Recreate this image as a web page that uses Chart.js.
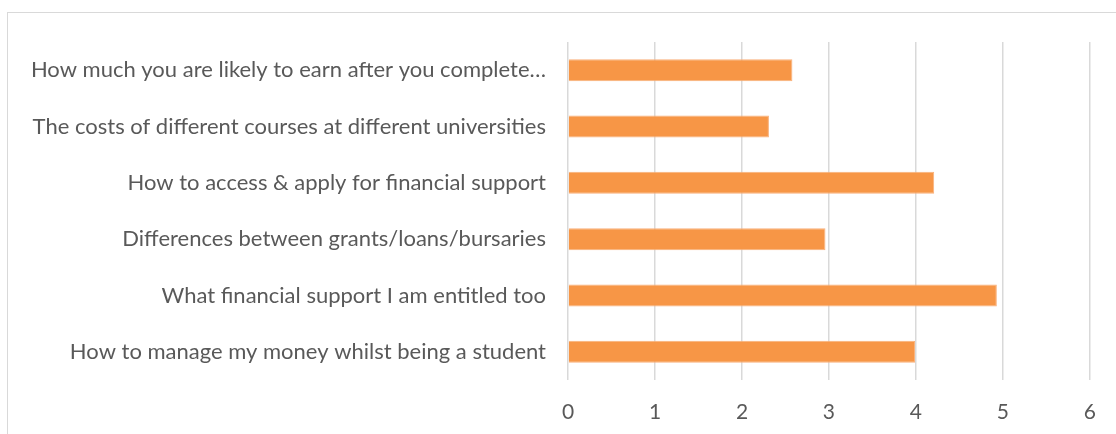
<!DOCTYPE html>
<html>
<head>
<meta charset="utf-8">
<script src="https://cdn.jsdelivr.net/npm/chart.js@4"></script>
<style>
  html, body { margin: 0; padding: 0; background: #fff; overflow: hidden; }
  #wrap { position: relative; width: 1116px; height: 434px; }
  #frame { position: absolute; left: 7px; top: 12px; width: 1200px; height: 500px; border: 1px solid #d9d9d9; box-sizing: border-box; }
  canvas { position: absolute; left: 0; top: 0; }
</style>
</head>
<body>
<div id="wrap">
  <div id="frame"></div>
  <canvas id="chart" width="1116" height="434"></canvas>
</div>
<script>
// categories, top to bottom
const categorias = [
    'How much you are likely to earn after you complete…',
    'The costs of different courses at different universities',
    'How to access & apply for financial support',
    'Differences between grants/loans/bursaries',
    'What financial support I am entitled too',
    'How to manage my money whilst being a student'
];
const valores = [2.58, 2.31, 4.21, 2.96, 4.93, 3.99];
const ticksX = [0, 1, 2, 3, 4, 5, 6];

const corTexto = '#595959';
const fonteCat = { family: 'Lato, sans-serif', size: 22 };
const fonteX = { family: 'Lato, sans-serif', size: 21 };

const ctx = document.getElementById('chart').getContext('2d');
new Chart(ctx, {
    type: 'bar',
    data: {
        labels: categorias,
        datasets: [{
            data: valores,
            backgroundColor: '#f79646',
            borderColor: '#f9b07a',
            borderWidth: 1,
            categoryPercentage: 1,
            barPercentage: 0.39
        }]
    },
    options: {
        indexAxis: 'y',
        responsive: false,
        animation: false,
        layout: { padding: { top: 42, right: 24, left: 0, bottom: 0 } },
        plugins: { legend: { display: false }, tooltip: { enabled: false } },
        scales: {
            x: {
                min: ticksX[0],
                max: ticksX[ticksX.length - 1],
                afterBuildTicks: s => { s.ticks = ticksX.map(v => ({ value: v })); },
                afterFit: s => { s.height = 54; },
                ticks: { color: corTexto, font: fonteX, padding: 20 },
                grid: { color: '#d9d9d9', lineWidth: 1.5, drawTicks: false },
                border: { display: false }
            },
            y: {
                afterFit: s => { s.width = 568; },
                ticks: { color: corTexto, font: fonteCat, padding: 22 },
                grid: { display: false, drawTicks: false },
                border: { display: false }
            }
        }
    }
});
</script>
</body>
</html>
